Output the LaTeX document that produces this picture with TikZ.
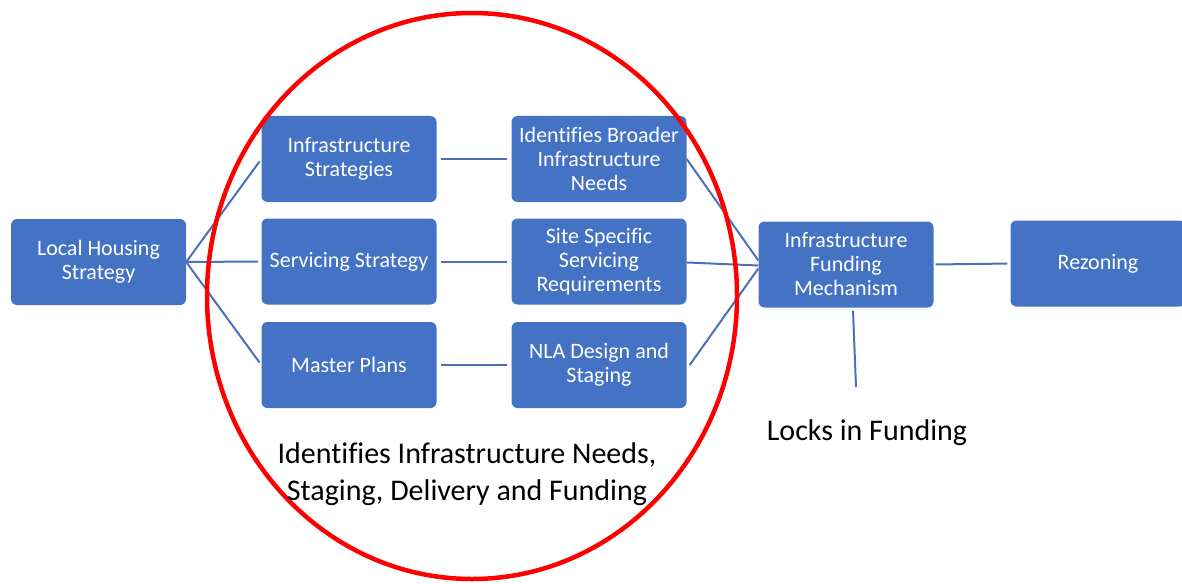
\documentclass[tikz,border=0pt]{standalone}
\usepackage{fontspec}
\setmainfont[RawFeature={-liga}]{Carlito}
\definecolor{boxblue}{HTML}{4472C4}
\definecolor{lineblue}{HTML}{4A70B8}

\begin{document}
\begin{tikzpicture}[x=1pt, y=-1pt,
  box/.style={fill=boxblue, rounded corners=6pt, minimum width=175pt, minimum height=86pt,
    inner sep=0pt, text=white, align=center, font=\fontsize{22}{24}\selectfont},
  link/.style={lineblue, line width=2pt},
  note/.style={align=center, font=\fontsize{30}{37}\selectfont}]
  \useasboundingbox (0,0) rectangle (1182,583);

  % first two columns
  \node[box] (lhs) at (98.5,262) {Local Housing\\Strategy};
  \node[box] (infra) at (349,159) {Infrastructure\\Strategies};
  \node[box] (serv) at (349,261.5) {Servicing Strategy};
  \node[box] (master) at (349,365) {Master Plans};
  \node[box] (broad) at (599,159) {Identifies Broader\\Infrastructure\\Needs};
  \node[box] (site) at (599,261.5) {Site Specific\\Servicing\\Requirements};
  \node[box] (nla) at (599,365) {NLA Design and\\Staging};
  % funding and rezoning
  \node[box] (fund) at (846,264.5) {Infrastructure\\Funding\\Mechanism};
  \node[box] (rezone) at (1098,263.5) {Rezoning};
  \coordinate (lock) at (856,387);

  \foreach \n in {infra,serv,master}
    \draw[link, shorten >=3pt] (lhs.east) -- (\n.west);
  \draw[link, shorten <=4pt, shorten >=4pt] (infra.east) -- (broad.west);
  \draw[link, shorten <=4pt, shorten >=4pt] (serv.east) -- (site.west);
  \draw[link, shorten <=4pt, shorten >=4pt] (master.east) -- (nla.west);

  \draw[link] (broad.east) -- ([yshift=4pt]fund.west);
  \draw[link] ([yshift=-1pt]site.east) -- ([yshift=-1pt]fund.west);
  \draw[link] ([xshift=3pt]nla.east) -- ([yshift=-4pt]fund.west);
  \draw[link, shorten <=2pt, shorten >=3pt] (fund.east) -- (rezone.west);
  \draw[link] ([xshift=7pt,yshift=-3pt]fund.south) -- (lock);

  \draw[red, line width=4.5pt] (472,296) ellipse [x radius=265pt, y radius=283pt];

  \node[note] (needs) at (467,474) {Identifies Infrastructure Needs,\\Staging, Delivery and Funding};
  \node[note] (locks) at (867,433) {Locks in Funding};
\end{tikzpicture}
\end{document}
